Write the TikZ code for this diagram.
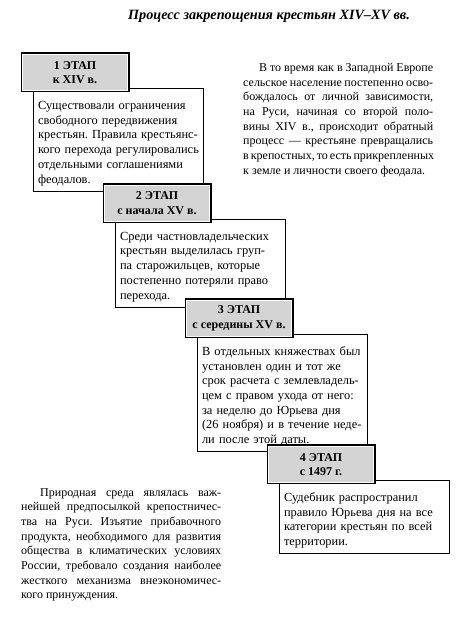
\documentclass[tikz,border=0pt]{standalone}
\usepackage{fontspec}
\setmainfont{Liberation Serif}
\usetikzlibrary{positioning}
\frenchspacing
\newcommand{\fullline}[1]{\makebox[\hsize][s]{#1}\\}

\begin{document}
\begin{tikzpicture}[
  x=1pt, y=-1pt,
  every node/.style={font=\fontsize{12}{14.7}\selectfont},
  stage/.style={fill=black!17, draw=white, line width=1pt, preaction={draw=black, line width=4pt}, minimum width=105pt, minimum height=36pt, align=center, inner sep=0pt, font=\fontsize{12}{14.5}\selectfont\bfseries},
  descr/.style={draw=black, line width=1.1pt, fill=white, text width=161pt, inner xsep=4.5pt, inner ysep=5.5pt, align=left, font=\fontsize{12.4}{14.7}\selectfont, execute at begin node={\rule{0pt}{15.5pt}}},
  para/.style={text width=#1, inner sep=0pt, align=justify}
]
  \useasboundingbox (0,0) rectangle (467,617);

  \node (title) at (269,16) [font=\fontsize{14.2}{16}\selectfont\bfseries\itshape] {Процесс закрепощения крестьян XIV–XV вв.};

  \node (text1) at (33,88) [descr, anchor=north west] {Существовали ограничения\\свободного передвижения\\крестьян. Правила крестьянс-\\кого перехода регулировались\\отдельными соглашениями\\феодалов.};
  \node (text2) [descr, below right=27pt and 82pt of text1.south west] {Среди частновладельческих\\крестьян выделилась груп-\\па старожильцев, которые\\постепенно потеряли право\\перехода.};
  \node (text3) [descr, below right=26pt and 82pt of text2.south west] {В отдельных княжествах был\\установлен один и тот же\\срок расчета с землевладель-\\цем с правом ухода от него:\\за неделю до Юрьева дня\\(26 ноября) и в течение неде-\\ли после этой даты.};
  \node (text4) [descr, below right=28pt and 82pt of text3.south west] {Судебник распространил\\правило Юрьева дня на все\\категории крестьян по всей\\территории.};

  \node (stage1) at ([xshift=-11pt, yshift=-3pt]text1.north west) [stage, anchor=south west] {1 ЭТАП\\к XIV в.};
  \node (stage2) at ([xshift=-11pt, yshift=-3pt]text2.north west) [stage, anchor=south west] {2 ЭТАП\\с начала XV в.};
  \node (stage3) at ([xshift=-11pt, yshift=-3pt]text3.north west) [stage, anchor=south west] {3 ЭТАП\\с середины XV в.};
  \node (stage4) at ([xshift=-11pt, yshift=-3pt]text4.north west) [stage, anchor=south west] {4 ЭТАП\\с 1497 г.};

  \node (west) at (243,63) [para=190pt, anchor=north west] {\fullline{\hspace*{16pt}В то время как в Западной Европе}\fullline{сельское население постепенно осво-}\fullline{бождалось от личной зависимости,}\fullline{на Руси, начиная со второй поло-}\fullline{вины XIV в., происходит обратный}\fullline{процесс — крестьяне превращались}\fullline{в крепостных, то есть прикрепленных}к земле и личности своего феодала.};

  \node (nature) at (21,488) [para=200pt, anchor=north west] {\fullline{\hspace*{19pt}Природная среда являлась важ-}\fullline{нейшей предпосылкой крепостничес-}\fullline{тва на Руси. Изъятие прибавочного}\fullline{продукта, необходимого для развития}\fullline{общества в климатических условиях}\fullline{России, требовало создания наиболее}\fullline{жесткого механизма внеэкономичес-}кого принуждения.};
\end{tikzpicture}
\end{document}
